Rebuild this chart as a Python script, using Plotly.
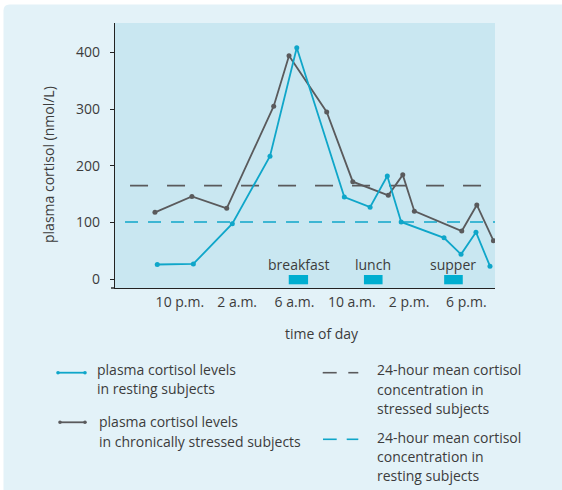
import plotly.graph_objects as go

# Clock time in hours (22 = 10 p.m., 30 = 6 a.m. next day, 42 = 6 p.m.)
resting_hours = [20.42, 22.94, 25.66, 28.29, 30.16, 33.48, 35.28, 36.48, 37.45, 40.44, 41.63, 42.67, 43.65]
resting_cortisol = [26, 27, 98, 217, 408, 145, 127, 182, 101, 73, 44, 83, 23]

stressed_hours = [20.26, 22.84, 25.27, 28.55, 29.62, 32.25, 34.07, 36.55, 37.56, 38.37, 41.68, 42.73, 43.89]
stressed_cortisol = [118, 146, 125, 305, 394, 295, 172, 148, 184, 120, 85, 131, 68]

mean_stressed = 165
mean_resting = 101

tick_hours = [22, 26, 30, 34, 38, 42]
tick_labels = ["10 p.m.", "2 a.m.", "6 a.m.", "10 a.m.", "2 p.m.", "6 p.m."]

meal_names = ["breakfast", "lunch", "supper"]
meal_start = [29.6, 34.85, 40.45]
meal_end = [30.95, 36.15, 41.75]

CYAN = "#0fa6c9"
GREY = "#5a5a5c"
BAR = "#00aed0"
TEXT = "#3c3c3c"
FONT = "Open Sans"
FS = 14

W, H = 562, 490
L, R, T, B = 115, 67, 23, 202
PW, PH = W - L - R, H - T - B


def px(x):
    return (x - L) / PW


def py(y):
    return (H - B - y) / PH


fig = go.Figure()

# 24-hour means
fig.add_trace(go.Scatter(x=[18.52, 43.17], y=[mean_stressed] * 2, mode="lines",
                         line=dict(color=GREY, width=1.6, dash="18px,19px"),
                         hoverinfo="skip"))
fig.add_trace(go.Scatter(x=[18.17, 44.0], y=[mean_resting] * 2, mode="lines",
                         line=dict(color=CYAN, width=1.6, dash="13px,10px"),
                         hoverinfo="skip"))

# Cortisol curves
fig.add_trace(go.Scatter(x=stressed_hours, y=stressed_cortisol, mode="lines+markers",
                         line=dict(color=GREY, width=1.8),
                         marker=dict(color=GREY, size=5)))
fig.add_trace(go.Scatter(x=resting_hours, y=resting_cortisol, mode="lines+markers",
                         line=dict(color=CYAN, width=1.8),
                         marker=dict(color=CYAN, size=5)))

shapes = []
# Rounded panel behind everything
x0, y0, x1, y1, r = px(3.5), py(4.5), px(575), py(500), 6
rx, ry = r / PW, r / PH
shapes.append(dict(
    type="path", xref="paper", yref="paper", layer="below",
    path=(f"M {x0 + rx},{y0} L {x1},{y0} L {x1},{y1} L {x0},{y1} "
          f"L {x0},{y0 - ry} Q {x0},{y0} {x0 + rx},{y0} Z"),
    fillcolor="#e3f2f8", line=dict(width=0)))
# Plot area fill
shapes.append(dict(type="rect", xref="paper", yref="paper", layer="below",
                   x0=0, x1=1, y0=0, y1=1, fillcolor="#c9e7f1", line=dict(width=0)))
# Bottom axis extends slightly left of the y axis
shapes.append(dict(type="line", xref="paper", yref="paper", x0=px(111), x1=0, y0=0, y1=0,
                   line=dict(color="#222", width=1.4)))

annotations = []
# Meal bars and labels
for name, s, e in zip(meal_names, meal_start, meal_end):
    shapes.append(dict(type="rect", xref="x", yref="paper", x0=s, x1=e,
                       y0=py(284.3), y1=py(275), fillcolor=BAR, line=dict(width=0)))
    annotations.append(dict(x=(s + e) / 2, y=py(264), xref="x", yref="paper",
                            text=name, showarrow=False, xanchor="center", yanchor="middle",
                            font=dict(family=FONT, size=FS, color=TEXT)))

# Axis titles
annotations.append(dict(x=px(322), y=py(333), xref="paper", yref="paper", text="time of day",
                        showarrow=False, xanchor="center", yanchor="middle",
                        font=dict(family=FONT, size=FS, color=TEXT)))
annotations.append(dict(x=px(48), y=py(165), xref="paper", yref="paper",
                        text="plasma cortisol (nmol/L)", textangle=-90, showarrow=False,
                        xanchor="center", yanchor="middle",
                        font=dict(family=FONT, size=FS, color=TEXT)))


# Legend
def seg(xa, xb, y, color, width=1.8):
    shapes.append(dict(type="line", xref="paper", yref="paper", x0=px(xa), x1=px(xb),
                       y0=py(y), y1=py(y), line=dict(color=color, width=width)))


def dot(x, y, color, rad=1.8):
    shapes.append(dict(type="circle", xref="paper", yref="paper",
                       x0=px(x - rad), x1=px(x + rad), y0=py(y + rad), y1=py(y - rad),
                       fillcolor=color, line=dict(width=0)))


def text_lines(x, ys, lines):
    for yy, t in zip(ys, lines):
        annotations.append(dict(x=px(x), y=py(yy), xref="paper", yref="paper", text=t,
                                showarrow=False, xanchor="left", yanchor="middle",
                                font=dict(family=FONT, size=FS, color=TEXT)))


seg(58, 85, 372.7, CYAN)
dot(58, 372.7, CYAN)
dot(85, 372.7, CYAN)
text_lines(95, [369.3, 388.5], ["plasma cortisol levels", "in resting subjects"])

seg(60, 85, 422.3, GREY)
dot(60, 422.3, GREY)
dot(85, 422.3, GREY)
text_lines(96.5, [421.7, 441], ["plasma cortisol levels", "in chronically stressed subjects"])

seg(322.7, 336.7, 372.7, GREY, 1.6)
seg(348.3, 358.3, 372.7, GREY, 1.6)
text_lines(375, [369.7, 389, 408], ["24-hour mean cortisol", "concentration in", "stressed subjects"])

seg(323, 336.7, 439.3, CYAN, 1.6)
seg(346.7, 358.3, 439.3, CYAN, 1.6)
text_lines(375, [437, 456.5, 475.5], ["24-hour mean cortisol", "concentration in", "resting subjects"])

fig.update_layout(
    width=W, height=H,
    margin=dict(l=L, r=R, t=T, b=B, pad=0),
    paper_bgcolor="white",
    plot_bgcolor="rgba(0,0,0,0)",
    showlegend=False,
    shapes=shapes,
    annotations=annotations,
    font=dict(family=FONT, size=FS, color=TEXT),
    xaxis=dict(range=[17.47, 44.0], tickmode="array", tickvals=tick_hours, ticktext=tick_labels,
               showgrid=False, zeroline=False, showline=True, linecolor="#222", linewidth=1.4,
               ticks="", ticklabelstandoff=1, tickfont=dict(family=FONT, size=FS, color=TEXT)),
    yaxis=dict(range=[-15.4, 451.7], tickmode="array", tickvals=[0, 100, 200, 300, 400],
               showgrid=False, zeroline=False, showline=True, linecolor="#222", linewidth=1.4,
               ticks="outside", ticklen=4, tickcolor="#222", tickwidth=1.4,
               ticklabelstandoff=7, tickfont=dict(family=FONT, size=FS, color=TEXT)),
)

fig.write_html("out.html")
